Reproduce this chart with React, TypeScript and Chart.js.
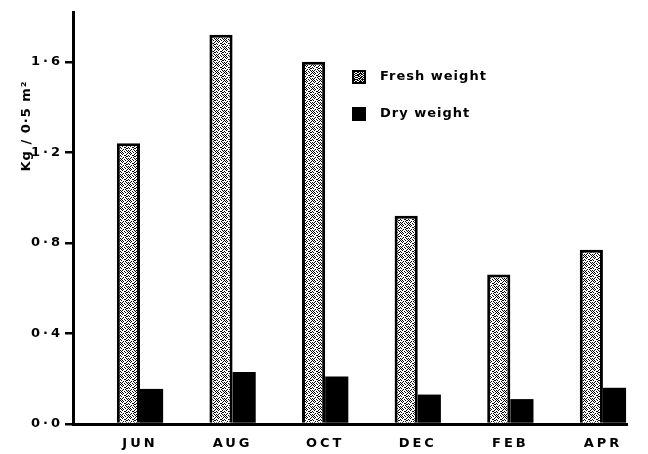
import React, { useEffect, useRef } from 'react';
import { Chart, registerables } from 'chart.js';

Chart.register(...registerables);

const months = ['JUN', 'AUG', 'OCT', 'DEC', 'FEB', 'APR'];
const freshWeight = [1.24, 1.72, 1.6, 0.92, 0.66, 0.77];
const dryWeight = [0.155, 0.23, 0.21, 0.13, 0.11, 0.16];
const yTicks = [0, 0.4, 0.8, 1.2, 1.6];
const seriesNames = ['Fresh weight', 'Dry weight'];
const yTitle = 'Kg / 0·5 m²';

const FONT = '"DejaVu Sans", sans-serif';

function makeStipple(ctx: CanvasRenderingContext2D, level: number): CanvasPattern | string {
  const c = document.createElement('canvas');
  c.width = 8;
  c.height = 8;
  const g = c.getContext('2d');
  if (!g) return '#ccc';
  g.fillStyle = '#ffffff';
  g.fillRect(0, 0, 8, 8);
  g.fillStyle = '#000000';
  const dots = [[0, 0], [3, 1], [6, 2], [4, 3], [1, 4], [7, 4], [5, 5], [2, 6], [7, 7], [0, 6], [5, 0], [2, 2]];
  const extra = [[1, 1], [6, 6], [3, 5], [4, 7], [7, 1], [0, 3], [5, 3], [2, 0], [6, 4], [1, 7]];
  const extra2 = [[3, 3], [1, 2], [6, 0], [4, 5], [2, 4], [7, 6], [0, 1], [5, 7], [3, 7], [6, 3], [1, 5], [4, 1], [7, 2], [2, 7], [0, 5], [5, 2]];
  dots.forEach(([x, y]) => g.fillRect(x, y, 1, 1));
  if (level >= 1) extra.forEach(([x, y]) => g.fillRect(x, y, 1, 1));
  if (level >= 2) extra2.forEach(([x, y]) => g.fillRect(x, y, 1, 1));
  return ctx.createPattern(c, 'repeat') || '#ccc';
}

export default function App() {
  const ref = useRef<HTMLCanvasElement | null>(null);

  useEffect(() => {
    const canvas = ref.current;
    if (!canvas) return;
    const ctx = canvas.getContext('2d') as CanvasRenderingContext2D;
    const stipple = makeStipple(ctx, 1);
    const stippleDark = makeStipple(ctx, 2);

    const spacingPlugin = {
      id: 'spacing',
      beforeUpdate(chart: any) {
        (chart.ctx as any).letterSpacing = '3px';
      },
      beforeDraw(chart: any) {
        (chart.ctx as any).letterSpacing = '3px';
      },
    };

    const decorPlugin = {
      id: 'decor',
      afterDraw(chart: any) {
        const c = chart.ctx as any;
        c.save();
        c.letterSpacing = '1px';
        c.font = `bold 13px ${FONT}`;
        c.fillStyle = '#000';
        c.textAlign = 'center';
        c.textBaseline = 'middle';
        c.translate(27, 126);
        c.rotate(-Math.PI / 2);
        c.fillText(yTitle, 0, 0);
        c.restore();

        c.save();
        c.letterSpacing = '1px';
        c.font = `bold 13px ${FONT}`;
        c.textAlign = 'left';
        c.textBaseline = 'middle';
        const items = [
          { y: 77, fill: stippleDark, name: seriesNames[0], pat: true },
          { y: 114, fill: '#000', name: seriesNames[1], pat: false },
        ];
        items.forEach((it) => {
          c.fillStyle = '#000';
          c.fillRect(352, it.y - 7, 14, 14);
          if (it.pat) {
            c.fillStyle = it.fill;
            c.fillRect(354, it.y - 5, 10, 10);
          }
          c.fillStyle = '#000';
          c.fillText(it.name, 380, it.y);
        });
        c.restore();
      },
    };

    const chart = new Chart(canvas, {
      type: 'bar',
      data: {
        datasets: [
          {
            label: seriesNames[0],
            data: freshWeight.map((v, i) => ({ x: i, y: v })),
            backgroundColor: stipple as any,
            borderColor: '#000',
            borderWidth: 3,
            categoryPercentage: 0.5,
            barPercentage: 1.0,
          },
          {
            label: seriesNames[1],
            data: dryWeight.map((v, i) => ({ x: i, y: v })),
            backgroundColor: '#000',
            borderColor: '#000',
            borderWidth: 0,
            categoryPercentage: 0.5,
            barPercentage: 1.0,
          },
        ],
      },
      options: {
        animation: false,
        responsive: false,
        devicePixelRatio: 1,
        layout: { padding: { top: 12, right: 21, left: 0, bottom: 0 } },
        plugins: {
          legend: { display: false },
          tooltip: { enabled: false },
        },
        scales: {
          x: {
            type: 'linear',
            offset: false,
            min: -0.7235,
            max: 5.26,
            grid: { display: false, drawTicks: false, offset: false },
            border: { display: true, color: '#000', width: 3 },
            afterBuildTicks: (s: any) => {
              s.ticks = months.map((_, i) => ({ value: i }));
            },
            afterFit: (s: any) => {
              s.height = 30;
            },
            ticks: {
              autoSkip: false,
              maxRotation: 0,
              padding: 12,
              color: '#000',
              font: { family: FONT, size: 13, weight: 'bold' },
              callback: (v: any) => months[v] ?? '',
            },
          },
          y: {
            min: 0,
            max: 1.82,
            afterBuildTicks: (s: any) => {
              s.ticks = yTicks.map((v) => ({ value: v }));
            },
            afterFit: (s: any) => {
              s.width = 73;
            },
            grid: {
              display: true,
              drawOnChartArea: false,
              drawTicks: true,
              tickLength: 8,
              color: '#000',
              lineWidth: 2.5,
            },
            border: { display: true, color: '#000', width: 3 },
            ticks: {
              padding: 2,
              color: '#000',
              font: { family: FONT, size: 13, weight: 'bold' },
              callback: (v: any) => Number(v).toFixed(1).replace('.', '·'),
            },
          },
        },
      },
      plugins: [spacingPlugin, decorPlugin],
    } as any);

    return () => chart.destroy();
  }, []);

  return (
    <div style={{ position: 'absolute', left: 0, top: 0, width: 648, height: 454, background: '#fff' }}>
      <canvas ref={ref} width={648} height={454} style={{ width: 648, height: 454, display: 'block' }} />
    </div>
  );
}
